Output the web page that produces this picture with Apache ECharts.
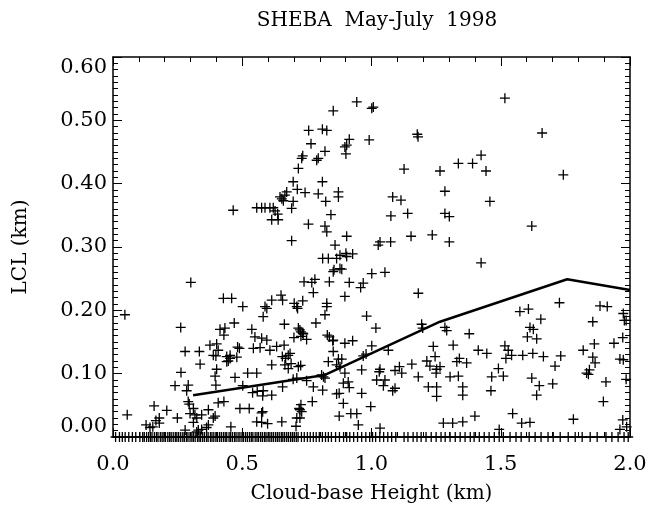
<!DOCTYPE html>
<html>
<head>
<meta charset="utf-8">
<script src="https://cdn.jsdelivr.net/npm/echarts@6/dist/echarts.min.js"></script>
<style>
  html, body { margin: 0; padding: 0; background: #fff; }
  #sheba { width: 661px; height: 513px; }
</style>
</head>
<body>
<div id="sheba"></div>
<script>
// cloud-base height (km), LCL (km) pairs
var scatterPts = [
  [0.465,0.358],[0.556,0.362],[0.575,0.362],[0.588,0.362],[0.607,0.362],[0.620,0.362],[0.627,0.357],[0.637,0.352],
  [0.614,0.343],[0.639,0.343],[0.646,0.379],[0.653,0.376],[0.659,0.373],[0.672,0.387],[0.665,0.382],[0.697,0.403],
  [0.691,0.361],[0.697,0.372],[0.713,0.391],[0.717,0.424],[0.730,0.440],[0.734,0.444],[0.743,0.386],[0.691,0.310],
  [0.756,0.336],[0.757,0.484],[0.766,0.463],[0.788,0.437],[0.794,0.440],[0.794,0.384],[0.810,0.403],[0.810,0.486],
  [0.827,0.484],[0.820,0.451],[0.823,0.372],[0.820,0.333],[0.827,0.324],[0.843,0.351],[0.852,0.515],[0.859,0.303],
  [0.872,0.387],[0.872,0.379],[0.897,0.458],[0.904,0.461],[0.901,0.447],[0.914,0.470],[0.943,0.529],[0.904,0.317],
  [1.001,0.519],[1.007,0.521],[0.991,0.469],[1.177,0.478],[1.180,0.474],[1.126,0.423],[1.265,0.420],[1.336,0.432],
  [1.391,0.432],[1.424,0.445],[1.443,0.420],[1.516,0.535],[1.660,0.480],[1.742,0.414],[1.082,0.379],[1.114,0.374],
  [1.284,0.388],[1.458,0.372],[1.075,0.349],[1.140,0.353],[1.284,0.353],[1.301,0.348],[1.620,0.333],[1.033,0.308],
  [1.026,0.303],[1.074,0.308],[1.153,0.317],[1.235,0.319],[1.301,0.308],
  [0.878,0.287],[0.901,0.290],[0.927,0.289],[0.904,0.285],[0.852,0.261],[0.878,0.266],[0.885,0.265],[1.424,0.275],
  [1.001,0.258],[1.052,0.260],[0.914,0.244],[0.958,0.236],[0.968,0.243],[0.897,0.222],[1.181,0.227],[0.981,0.191],
  [1.017,0.172],[1.194,0.178],[1.198,0.172],[1.284,0.173],[1.291,0.168],[1.378,0.163],[1.574,0.198],[1.607,0.202],
  [1.655,0.186],[1.727,0.212],[1.884,0.207],[1.912,0.206],[1.856,0.182],[1.974,0.195],[1.985,0.184],[1.613,0.173],
  [1.626,0.170],[1.603,0.158],[1.639,0.155],[1.972,0.157],[1.938,0.148],[1.862,0.147],[0.852,0.153],[0.897,0.148],
  [0.927,0.152],[0.852,0.135],[1.001,0.144],[1.065,0.137],[1.239,0.143],[1.316,0.145],[1.246,0.127],[1.214,0.120],
  [0.968,0.128],[0.979,0.131],[0.865,0.114],[0.878,0.111],[0.885,0.123],[0.962,0.106],[1.413,0.137],[1.446,0.132],
  [1.516,0.144],[1.529,0.137],[1.542,0.129],[1.520,0.124],[1.585,0.129],[1.624,0.132],[1.665,0.127],[1.732,0.128],
  [1.819,0.137],[1.856,0.126],[1.865,0.117],[1.961,0.123],[1.974,0.122],[1.033,0.107],[1.030,0.103],[1.020,0.090],
  [1.052,0.090],[1.046,0.081],[1.082,0.073],[1.091,0.077],[1.108,0.111],[1.117,0.101],[1.091,0.105],[1.156,0.115],
  [1.226,0.112],[1.252,0.107],[1.265,0.111],[1.250,0.101],[1.330,0.119],[1.340,0.124],[1.368,0.117],[1.304,0.095],
  [1.336,0.096],[1.181,0.095],[1.220,0.079],[1.252,0.079],[1.252,0.064],[1.353,0.079],[1.353,0.066],[1.465,0.095],
  [1.510,0.096],[1.491,0.108],[1.462,0.073],[1.620,0.093],[1.649,0.081],[1.639,0.066],[1.701,0.084],[1.710,0.112],
  [1.843,0.106],[1.839,0.099],[1.832,0.101],[1.907,0.087],[1.897,0.056],[1.985,0.091],[0.897,0.101],[0.891,0.085],
  [0.910,0.087],[0.875,0.069],[0.865,0.068],[0.962,0.069],[0.891,0.053],[0.997,0.048],[0.875,0.033],[0.920,0.037],
  [0.943,0.037],[0.949,0.019],[1.033,0.014],[1.278,0.022],[1.314,0.022],[1.353,0.024],[1.400,0.033],[1.546,0.037],
  [1.581,0.022],[1.613,0.023],[1.781,0.028],[1.494,0.012],[1.972,0.027],[1.961,0.012],[1.987,0.016],[1.978,0.184],
  [0.046,0.193],[0.301,0.244],[0.262,0.173],[0.427,0.219],[0.459,0.219],[0.502,0.206],[0.414,0.170],[0.433,0.172],
  [0.429,0.161],[0.469,0.180],[0.279,0.135],[0.334,0.135],[0.337,0.115],[0.375,0.145],[0.401,0.147],[0.407,0.137],
  [0.398,0.128],[0.388,0.129],[0.440,0.127],[0.453,0.124],[0.446,0.120],[0.479,0.126],[0.440,0.119],[0.453,0.129],
  [0.482,0.142],[0.489,0.140],[0.263,0.102],[0.240,0.081],[0.291,0.082],[0.285,0.073],[0.395,0.096],[0.401,0.107],
  [0.472,0.094],[0.398,0.082],[0.502,0.081],[0.159,0.049],[0.208,0.042],[0.179,0.030],[0.179,0.022],[0.166,0.026],
  [0.128,0.019],[0.154,0.016],[0.143,0.015],[0.249,0.030],[0.291,0.056],[0.295,0.052],[0.311,0.045],[0.298,0.037],
  [0.317,0.035],[0.324,0.030],[0.311,0.023],[0.343,0.035],[0.369,0.043],[0.343,0.012],[0.324,0.008],[0.330,0.011],
  [0.362,0.015],[0.369,0.019],[0.388,0.030],[0.395,0.033],[0.407,0.054],[0.429,0.056],[0.279,0.011],[0.456,0.016],
  [0.491,0.045],[0.527,0.045],[0.540,0.070],[0.558,0.072],[0.581,0.073],[0.521,0.101],[0.556,0.101],[0.579,0.065],
  [0.614,0.066],[0.575,0.038],[0.579,0.040],[0.556,0.024],[0.575,0.023],[0.598,0.021],[0.537,0.170],[0.543,0.140],
  [0.549,0.158],[0.569,0.141],[0.581,0.190],[0.575,0.156],[0.595,0.153],[0.588,0.206],[0.595,0.203],[0.614,0.216],
  [0.650,0.224],[0.656,0.216],[0.607,0.137],[0.614,0.114],[0.633,0.143],[0.662,0.145],[0.655,0.127],[0.668,0.124],
  [0.678,0.129],[0.685,0.132],[0.665,0.114],[0.678,0.108],[0.689,0.116],[0.656,0.079],[0.653,0.024],[0.663,0.178],
  [0.701,0.211],[0.711,0.206],[0.714,0.203],[0.734,0.215],[0.700,0.157],[0.727,0.159],[0.734,0.164],[0.717,0.172],
  [0.723,0.169],[0.727,0.166],[0.736,0.163],[0.749,0.154],[0.717,0.111],[0.726,0.113],[0.697,0.091],[0.711,0.093],
  [0.749,0.089],[0.775,0.079],[0.727,0.051],[0.720,0.045],[0.723,0.043],[0.730,0.040],[0.711,0.030],[0.723,0.030],
  [0.708,0.017],[0.771,0.056],[0.739,0.245],[0.769,0.244],[0.781,0.249],[0.775,0.228],[0.785,0.180],[0.811,0.282],
  [0.833,0.282],[0.855,0.264],[0.865,0.282],[0.837,0.245],[0.827,0.211],[0.827,0.206],[0.820,0.193],[0.829,0.161],
  [0.837,0.158],[0.850,0.152],[0.807,0.098],[0.814,0.095],[0.820,0.093],[0.833,0.119],[0.872,0.123],[0.811,0.074],
  [0.914,0.078],[0.055,0.035]
];

// cases with LCL = 0 (they pile up on the bottom axis)
var zeroLclCbh = [
  0.01,0.025,0.036,0.047,0.061,0.075,0.088,0.104,
  0.115,0.121,0.13,0.138,0.145,0.151,0.16,0.168,0.174,0.183,0.19,0.197,0.203,0.212,0.219,0.225,0.233,0.241,
  0.247,0.254,0.262,0.27,0.276,0.284,0.29,0.298,0.305,0.311,0.318,0.327,0.333,0.339,0.347,0.354,0.362,0.368,
  0.377,0.383,0.39,0.398,0.404,0.412,0.419,0.427,0.434,0.44,0.449,0.455,0.462,0.47,0.476,0.484,0.491,0.499,
  0.505,0.513,0.52,0.528,0.535,0.541,0.55,0.557,0.563,0.571,0.578,0.586,0.592,0.6,0.607,0.614,0.621,0.629,
  0.636,0.643,0.651,0.657,0.664,0.672,0.679,0.687,0.694,0.701,0.709,0.716,
  0.729,0.74,0.752,0.763,0.775,0.786,0.798,0.81,0.822,0.833,0.845,0.861,0.876,0.892,0.904,0.916,0.931,0.946,
  0.962,0.978,0.993,1.004,1.016,1.032,1.047,1.063,1.078,1.094,
  1.126,1.141,1.161,1.176,1.192,1.211,1.231,1.25,1.269,1.285,1.304,1.324,1.343,1.362,1.382,1.397,1.417,1.436,
  1.455,1.475,1.494,1.51,
  1.536,1.559,1.579,1.61,1.633,1.656,1.683,1.703,1.73,1.761,1.788,1.815,1.846,1.873,1.907,1.93,1.954,1.977,1.993
];

// binned mean curve
var fitCbh = [0.31, 0.82, 1.265, 1.757, 2.0];
var fitLcl = [0.066, 0.098, 0.182, 0.249, 0.232];

var chartDom = document.getElementById('sheba');
var myChart = echarts.init(chartDom, null, { renderer: 'canvas' });

var serif = 'DejaVu Serif';
var plusSym = 'path://M4.35,0h1.3v10h-1.3zM0,4.35h10v1.3h-10z';

var zeroPts = [];
for (var i = 0; i < zeroLclCbh.length; i++) {
  zeroPts.push([zeroLclCbh[i], 0]);
}
var fitPts = [];
for (var j = 0; j < fitCbh.length; j++) {
  fitPts.push([fitCbh[j], fitLcl[j]]);
}

function xAxisCfg(pos, showLabel) {
  return {
    type: 'value',
    position: pos,
    min: 0,
    max: 2,
    interval: 0.5,
    axisLine: { show: true, onZero: false, lineStyle: { color: '#000', width: 1.5 } },
    axisTick: { show: true, inside: true, length: 9, lineStyle: { color: '#000', width: 1 } },
    minorTick: { show: true, splitNumber: 5, length: 5, lineStyle: { color: '#000', width: 1 } },
    splitLine: { show: false },
    axisLabel: {
      show: showLabel,
      formatter: function (v) { return v.toFixed(1); },
      fontFamily: serif,
      fontSize: 21,
      color: '#000',
      margin: 17
    }
  };
}

function yAxisCfg(pos, showLabel) {
  return {
    type: 'value',
    position: pos,
    min: 0,
    max: 0.6,
    interval: 0.1,
    axisLine: { show: true, onZero: false, lineStyle: { color: '#000', width: 1.5 } },
    axisTick: { show: true, inside: true, length: 9, lineStyle: { color: '#000', width: 1 } },
    minorTick: { show: true, splitNumber: 10, length: 5, lineStyle: { color: '#000', width: 1 } },
    splitLine: { show: false },
    axisLabel: {
      show: showLabel,
      formatter: function (v) { return v.toFixed(2); },
      fontFamily: serif,
      fontSize: 21,
      color: '#000',
      margin: 6,
      verticalAlignMinLabel: 'bottom',
      verticalAlignMaxLabel: 'top'
    }
  };
}

var xBottom = xAxisCfg('bottom', true);
xBottom.name = 'Cloud-base Height (km)';
xBottom.nameLocation = 'middle';
xBottom.nameGap = 47;
xBottom.nameTextStyle = { fontFamily: serif, fontSize: 20, color: '#000' };

var yLeft = yAxisCfg('left', true);
yLeft.name = 'LCL (km)';
yLeft.nameLocation = 'middle';
yLeft.nameGap = 82;
yLeft.nameTextStyle = { fontFamily: serif, fontSize: 20, color: '#000' };

var option = {
  backgroundColor: '#fff',
  animation: false,
  title: {
    text: 'SHEBA  May-July  1998',
    left: 372,
    top: 6,
    textAlign: 'center',
    textStyle: { fontFamily: serif, fontSize: 20, fontWeight: 'normal', color: '#000' }
  },
  grid: { left: 113, right: 31, top: 57, bottom: 76, containLabel: false },
  xAxis: [xBottom, xAxisCfg('top', false)],
  yAxis: [yLeft, yAxisCfg('right', false)],
  series: [
    {
      type: 'scatter',
      xAxisIndex: 0, yAxisIndex: 0,
      data: scatterPts,
      symbol: plusSym,
      symbolSize: 10,
      itemStyle: { color: '#000', opacity: 1 },
      clip: true
    },
    {
      type: 'scatter',
      xAxisIndex: 0, yAxisIndex: 0,
      data: zeroPts,
      symbol: plusSym,
      symbolSize: 10,
      itemStyle: { color: '#000', opacity: 1 },
      clip: true
    },
    {
      type: 'line',
      xAxisIndex: 0, yAxisIndex: 0,
      data: fitPts,
      showSymbol: false,
      symbol: 'none',
      lineStyle: { color: '#000', width: 2.5 },
      clip: true
    }
  ]
};

option && myChart.setOption(option);
</script>
</body>
</html>
